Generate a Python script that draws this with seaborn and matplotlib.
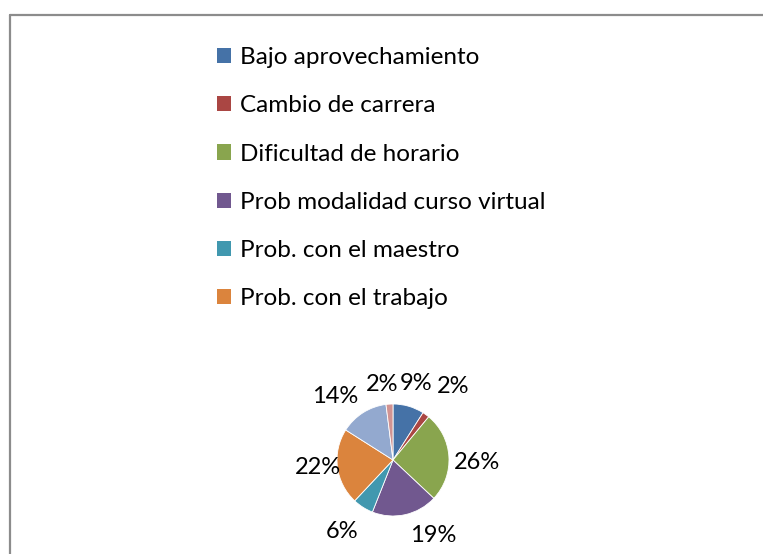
import matplotlib
matplotlib.use("Agg")
import matplotlib.pyplot as plt
import matplotlib.lines as mlines
import seaborn as sns

# Data
categories = [
    "Bajo aprovechamiento",
    "Cambio de carrera",
    "Dificultad de horario",
    "Prob modalidad curso virtual",
    "Prob. con el maestro",
    "Prob. con el trabajo",
    "Prob. personales",
    "Otros",
]
percentages = [9, 2, 26, 19, 6, 22, 14, 2]
colors = ["#4572A7", "#AA4643", "#89A54E", "#71588F",
          "#4198AF", "#DB843D", "#93A9CF", "#D19392"]
n_legend = 6  # the legend box is cut off after six entries

# where the data labels sit (pie radius = 1), as in the original layout
label_pos = [(0.41, 1.36), (1.07, 1.32), (1.5, -0.04), (0.71, -1.34),
             (-0.91, -1.27), (-1.34, -0.13), (-1.04, 1.14), (-0.2, 1.34)]

sns.set_style("white")
plt.rcParams["font.family"] = ["Lato", "DejaVu Sans"]

W, H = 763, 554
fig = plt.figure(figsize=(W / 100, H / 100), dpi=100)

# chart frame (only the top and left edges are inside the picture)
frame_kw = dict(color="#8c8c8c", linewidth=1.6, transform=fig.transFigure)
fig.add_artist(mlines.Line2D([10 / W, 10 / W], [0, 1 - 15 / H], **frame_kw))
fig.add_artist(mlines.Line2D([10 / W, 1], [1 - 15 / H, 1 - 15 / H], **frame_kw))

# pie axes: centre at (393, 460) px, radius 56 px
cx, cy, r, lim = 393, 460, 56, 1.3
half = r * lim
ax = fig.add_axes([(cx - half) / W, (H - cy - half) / H, 2 * half / W, 2 * half / H])

wedges, texts, autotexts = ax.pie(
    percentages,
    colors=colors,
    startangle=90,
    counterclock=False,
    autopct="%d%%",
    wedgeprops=dict(edgecolor="white", linewidth=0.6),
    textprops=dict(fontsize=17, color="#000000"),
)
for t, pos in zip(autotexts, label_pos):
    t.set_position(pos)
ax.set_xlim(-lim, lim)
ax.set_ylim(-lim, lim)
ax.set_aspect("equal")
ax.axis("off")

leg = fig.legend(
    wedges[:n_legend],
    categories[:n_legend],
    loc="upper left",
    bbox_to_anchor=(205 / W, 1 - 35 / H),
    frameon=False,
    fontsize=17.5,
    handlelength=0.58,
    handleheight=0.58,
    handletextpad=0.35,
    labelspacing=1.12,
    borderpad=0,
)
for h in leg.legend_handles:
    h.set_edgecolor("none")
for t in leg.get_texts():
    t.set_color("#000000")

fig.savefig("out.png", dpi=100)
